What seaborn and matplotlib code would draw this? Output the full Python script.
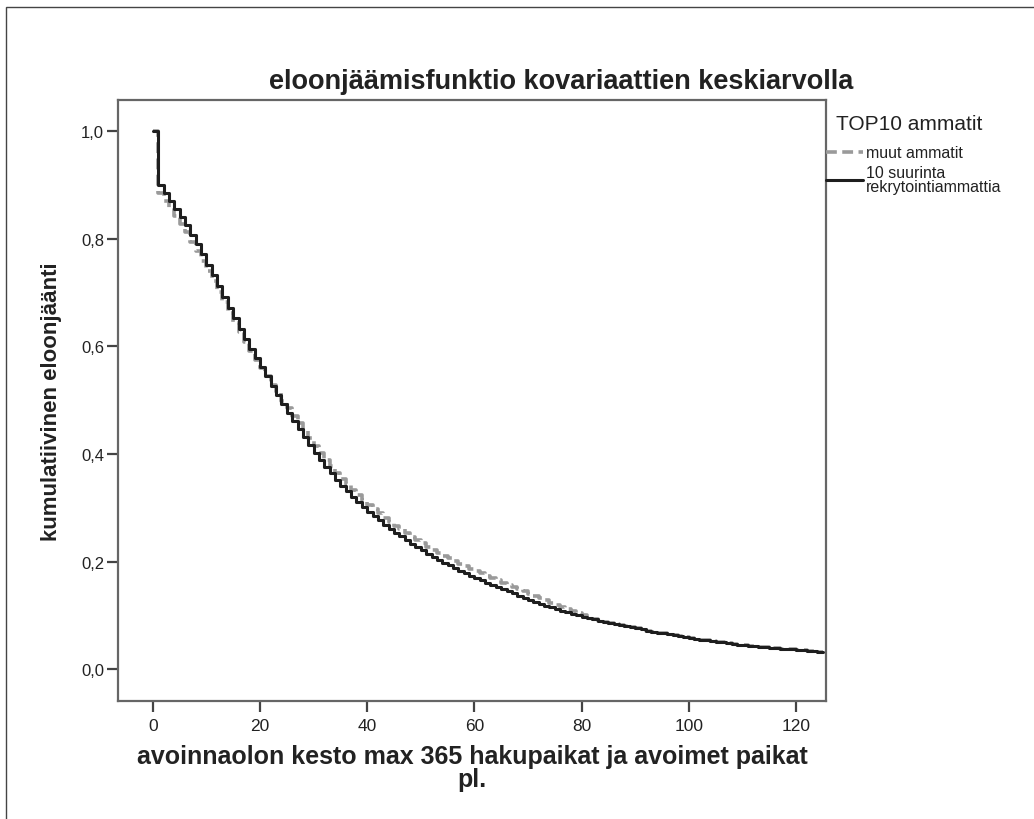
import matplotlib
matplotlib.use("Agg")
import matplotlib.pyplot as plt
from matplotlib.patches import Rectangle
import seaborn as sns
import pandas as pd

# Days since the vacancy was opened
days = list(range(0, 126))

# Cumulative survival, "10 suurinta rekrytointiammattia"
top10 = [
    1.000, 0.900, 0.885, 0.870, 0.855, 0.840, 0.825, 0.808, 0.790, 0.771,
    0.752, 0.732, 0.712, 0.692, 0.672, 0.652, 0.632, 0.613, 0.595, 0.578,
    0.562, 0.545, 0.527, 0.509, 0.493, 0.477, 0.461, 0.446, 0.431, 0.416,
    0.402, 0.389, 0.376, 0.364, 0.352, 0.341, 0.331, 0.321, 0.311, 0.302,
    0.293, 0.285, 0.277, 0.269, 0.261, 0.254, 0.247, 0.240, 0.233, 0.227,
    0.221, 0.215, 0.209, 0.203, 0.198, 0.193, 0.188, 0.183, 0.178, 0.173,
    0.169, 0.165, 0.161, 0.157, 0.153, 0.149, 0.145, 0.141, 0.137, 0.133,
    0.128, 0.125, 0.122, 0.118, 0.115, 0.112, 0.109, 0.106, 0.103, 0.101,
    0.098, 0.095, 0.093, 0.090, 0.088, 0.086, 0.084, 0.082, 0.080, 0.078,
    0.076, 0.074, 0.072, 0.070, 0.068, 0.067, 0.065, 0.063, 0.061, 0.060,
    0.058, 0.057, 0.055, 0.054, 0.052, 0.051, 0.050, 0.049, 0.047, 0.046,
    0.045, 0.044, 0.043, 0.042, 0.041, 0.040, 0.039, 0.038, 0.038, 0.037,
    0.036, 0.035, 0.034, 0.034, 0.033, 0.032,
]

# Cumulative survival, "muut ammatit"
others = [
    1.000, 0.885, 0.871, 0.857, 0.842, 0.827, 0.812, 0.795, 0.777, 0.759,
    0.740, 0.721, 0.701, 0.682, 0.663, 0.644, 0.626, 0.608, 0.591, 0.575,
    0.560, 0.545, 0.529, 0.513, 0.499, 0.485, 0.471, 0.457, 0.443, 0.429,
    0.415, 0.402, 0.389, 0.377, 0.365, 0.354, 0.344, 0.334, 0.324, 0.315,
    0.306, 0.298, 0.290, 0.282, 0.274, 0.267, 0.260, 0.253, 0.246, 0.240,
    0.234, 0.228, 0.222, 0.216, 0.211, 0.206, 0.201, 0.196, 0.191, 0.186,
    0.182, 0.178, 0.173, 0.169, 0.165, 0.161, 0.157, 0.153, 0.149, 0.145,
    0.140, 0.136, 0.132, 0.128, 0.124, 0.120, 0.116, 0.112, 0.108, 0.104,
    0.100, 0.096, 0.093, 0.090, 0.088, 0.086, 0.084, 0.082, 0.080, 0.078,
    0.076, 0.074, 0.072, 0.070, 0.068, 0.067, 0.065, 0.063, 0.061, 0.060,
    0.058, 0.057, 0.055, 0.054, 0.052, 0.051, 0.050, 0.049, 0.047, 0.046,
    0.045, 0.044, 0.043, 0.042, 0.041, 0.040, 0.039, 0.038, 0.038, 0.037,
    0.036, 0.035, 0.034, 0.034, 0.033, 0.032,
]

group_names = ["muut ammatit", "10 suurinta\nrekrytointiammattia"]
x_ticks = [0, 20, 40, 60, 80, 100, 120]
y_ticks = [0.0, 0.2, 0.4, 0.6, 0.8, 1.0]

df = pd.concat([
    pd.DataFrame({"t": days, "S": others, "ryhmä": group_names[0]}),
    pd.DataFrame({"t": days, "S": top10, "ryhmä": group_names[1]}),
])

sns.set_theme(style="white")
plt.rcParams["font.family"] = ["Liberation Sans", "DejaVu Sans"]

fig = plt.figure(figsize=(10.34, 8.20), dpi=100)
fig.patch.set_facecolor("white")
fig.patches.append(Rectangle((0.006, -0.05), 1.1, 1.05 - 0.0098,
                             transform=fig.transFigure, fill=False,
                             edgecolor="#444444", linewidth=1.0))

ax = fig.add_axes([0.1141, 0.1439, 0.6847, 0.7329])

sns.lineplot(data=df, x="t", y="S", hue="ryhmä", style="ryhmä",
             hue_order=group_names, style_order=group_names,
             palette={group_names[0]: "#9a9a9a", group_names[1]: "#1e1e1e"},
             dashes={group_names[0]: (3, 1.5), group_names[1]: ""},
             size="ryhmä", sizes={group_names[0]: 2.6, group_names[1]: 2.2},
             drawstyle="steps-post", ax=ax, estimator=None, sort=False)

ax.set_xlim(-6.5, 125.6)
ax.set_ylim(-0.059, 1.058)
ax.set_xticks(x_ticks)
ax.set_xticklabels([str(v) for v in x_ticks])
ax.set_yticks(y_ticks)
ax.set_yticklabels([f"{v:.1f}".replace(".", ",") for v in y_ticks])

for side in ["left", "right", "top", "bottom"]:
    ax.spines[side].set_visible(True)
    ax.spines[side].set_color("#666666")
    ax.spines[side].set_linewidth(1.6)

ax.tick_params(axis="both", which="both", direction="out", length=8,
               width=1.6, color="#444444", labelcolor="#222222",
               bottom=True, left=True)
ax.tick_params(axis="y", labelsize=12, pad=2)
ax.tick_params(axis="x", labelsize=12.5, pad=4)

ax.set_xlabel("avoinnaolon kesto max 365 hakupaikat ja avoimet paikat\npl.",
              fontsize=18, fontweight="bold", color="#222222",
              labelpad=8, linespacing=0.95)
ax.set_ylabel("kumulatiivinen eloonjäänti", fontsize=16, fontweight="bold",
              color="#222222", labelpad=14)

fig.text(0.5425, 0.900, "eloonjäämisfunktio kovariaattien keskiarvolla",
         ha="center", va="center", fontsize=19.5, fontweight="bold",
         color="#222222")

# Legend heading sits above the entries, left-aligned with a small indent
fig.text(836 / 1034, 1 - 124 / 820, "TOP10 ammatit", ha="left", va="center",
         fontsize=15, color="#222222")

handles, labels = ax.get_legend_handles_labels()
leg = ax.legend(handles, labels, loc="upper left",
                bbox_to_anchor=(1.0, 0.925), frameon=False,
                fontsize=11.5, handlelength=2.3, handletextpad=0.2,
                labelspacing=0.3, borderaxespad=0.0, borderpad=0.0)
for txt in leg.get_texts():
    txt.set_color("#222222")
    txt.set_linespacing(0.95)

fig.savefig("out.png", dpi=100, facecolor="white")
